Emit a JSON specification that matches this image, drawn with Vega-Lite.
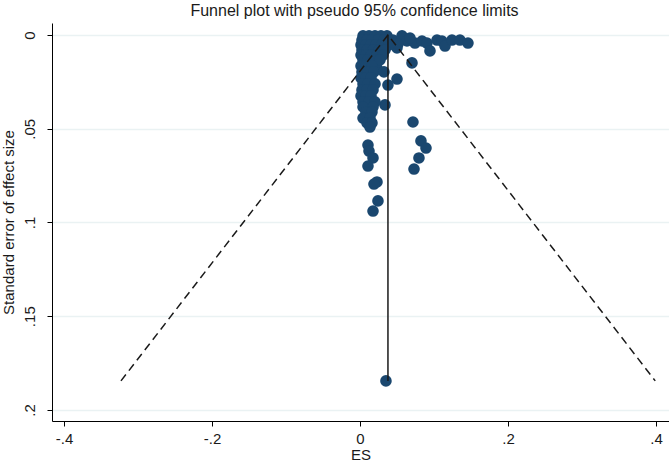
{
  "$schema": "https://vega.github.io/schema/vega-lite/v6.json",
  "width": 617,
  "height": 398,
  "autosize": {"type": "none"},
  "padding": {"left": 52, "top": 23, "right": 0, "bottom": 45},
  "background": "white",
  "title": {"text": "Funnel plot with pseudo 95% confidence limits", "font": "Liberation Sans", "fontSize": 16, "fontWeight": "normal", "color": "#1a1a1a", "offset": 4, "frame": "group", "dx": -6},
  "config": {"view": {"stroke": null}, "font": "Liberation Sans"},
  "datasets": {
    "studies": [
      {"es": 0.0446, "se": 0.0027}, {"es": 0.0568, "se": 0.0005}, {"es": 0.0635, "se": 0.0032}, {"es": 0.0743, "se": 0.0043},
      {"es": 0.0838, "se": 0.0032}, {"es": 0.0905, "se": 0.0043}, {"es": 0.0946, "se": 0.0085}, {"es": 0.1041, "se": 0.0027},
      {"es": 0.1108, "se": 0.0032}, {"es": 0.1149, "se": 0.0059}, {"es": 0.1243, "se": 0.0027}, {"es": 0.1351, "se": 0.0027},
      {"es": 0.1459, "se": 0.0043}, {"es": 0.0500, "se": 0.0069}, {"es": 0.0703, "se": 0.0149}, {"es": 0.0514, "se": 0.0048},
      {"es": 0.0676, "se": 0.0016},
      {"es": 0.0500, "se": 0.0235}, {"es": 0.0230, "se": 0.0176}, {"es": 0.0378, "se": 0.0267}, {"es": 0.0338, "se": 0.0373},
      {"es": 0.0716, "se": 0.0464}, {"es": 0.0824, "se": 0.0565}, {"es": 0.0892, "se": 0.0603}, {"es": 0.0797, "se": 0.0656},
      {"es": 0.0730, "se": 0.0715}, {"es": 0.0108, "se": 0.0587}, {"es": 0.0122, "se": 0.0619}, {"es": 0.0176, "se": 0.0656},
      {"es": 0.0108, "se": 0.0699}, {"es": 0.0230, "se": 0.0784}, {"es": 0.0189, "se": 0.0795}, {"es": 0.0243, "se": 0.0885},
      {"es": 0.0176, "se": 0.0939}, {"es": 0.0351, "se": 0.1845},
      {"es": 0.0041, "se": 0.0005}, {"es": 0.0122, "se": 0.0005}, {"es": 0.0203, "se": 0.0005}, {"es": 0.0284, "se": 0.0005}, {"es": 0.0365, "se": 0.0005},
      {"es": 0.0027, "se": 0.0027}, {"es": 0.0095, "se": 0.0027}, {"es": 0.0162, "se": 0.0027}, {"es": 0.0243, "se": 0.0027}, {"es": 0.0324, "se": 0.0027},
      {"es": 0.0014, "se": 0.0053}, {"es": 0.0081, "se": 0.0053}, {"es": 0.0149, "se": 0.0053}, {"es": 0.0216, "se": 0.0053}, {"es": 0.0297, "se": 0.0053}, {"es": 0.0392, "se": 0.0053},
      {"es": 0.0027, "se": 0.0080}, {"es": 0.0095, "se": 0.0080}, {"es": 0.0176, "se": 0.0080}, {"es": 0.0257, "se": 0.0080}, {"es": 0.0338, "se": 0.0080},
      {"es": 0.0014, "se": 0.0107}, {"es": 0.0081, "se": 0.0107}, {"es": 0.0149, "se": 0.0107}, {"es": 0.0230, "se": 0.0107}, {"es": 0.0311, "se": 0.0107},
      {"es": 0.0041, "se": 0.0133}, {"es": 0.0108, "se": 0.0133}, {"es": 0.0189, "se": 0.0133}, {"es": 0.0270, "se": 0.0133},
      {"es": 0.0014, "se": 0.0165}, {"es": 0.0081, "se": 0.0165}, {"es": 0.0162, "se": 0.0165},
      {"es": 0.0027, "se": 0.0197}, {"es": 0.0108, "se": 0.0197}, {"es": 0.0189, "se": 0.0197}, {"es": 0.0324, "se": 0.0197},
      {"es": 0.0014, "se": 0.0229}, {"es": 0.0081, "se": 0.0229}, {"es": 0.0149, "se": 0.0229},
      {"es": 0.0041, "se": 0.0261}, {"es": 0.0108, "se": 0.0261}, {"es": 0.0203, "se": 0.0261},
      {"es": 0.0027, "se": 0.0293}, {"es": 0.0095, "se": 0.0293}, {"es": 0.0176, "se": 0.0293},
      {"es": 0.0014, "se": 0.0325}, {"es": 0.0081, "se": 0.0325}, {"es": 0.0149, "se": 0.0325},
      {"es": 0.0041, "se": 0.0357}, {"es": 0.0122, "se": 0.0357}, {"es": 0.0203, "se": 0.0357},
      {"es": 0.0041, "se": 0.0384}, {"es": 0.0176, "se": 0.0384},
      {"es": 0.0081, "se": 0.0411}, {"es": 0.0162, "se": 0.0411},
      {"es": 0.0041, "se": 0.0443}, {"es": 0.0135, "se": 0.0443},
      {"es": 0.0095, "se": 0.0469}, {"es": 0.0162, "se": 0.0469},
      {"es": 0.0135, "se": 0.0491}
    ],
    "limits": [
      {"es": -0.323, "se": 0.1845, "o": 1},
      {"es": 0.0378, "se": 0.0, "o": 2},
      {"es": 0.399, "se": 0.1845, "o": 3}
    ],
    "pooled": [
      {"es": 0.0378, "se0": 0.0, "se1": 0.1845}
    ]
  },
  "encoding": {
    "x": {
      "field": "es", "type": "quantitative",
      "scale": {"domain": [-0.4162, 0.4176], "nice": false, "zero": false},
      "axis": {
        "title": "ES", "values": [-0.4, -0.2, 0, 0.2, 0.4],
        "labelExpr": "datum.value == 0 ? '0' : (datum.value < 0 ? '-' : '') + replace(format(abs(datum.value), '.2~f'), '0.', '.')",
        "grid": false, "domainColor": "#000000", "tickColor": "#000000", "tickSize": 5,
        "labelFont": "Liberation Sans", "labelFontSize": 15, "labelColor": "#1a1a1a", "labelPadding": 5,
        "titleFont": "Liberation Sans", "titleFontSize": 15, "titleFontWeight": "normal", "titleColor": "#1a1a1a", "titlePadding": 1
      }
    },
    "y": {
      "field": "se", "type": "quantitative",
      "scale": {"domain": [-0.0064, 0.2059], "nice": false, "zero": false, "reverse": true},
      "axis": {
        "title": "Standard error of effect size", "values": [0, 0.05, 0.1, 0.15, 0.2],
        "labelExpr": "datum.value == 0 ? '0' : replace(format(datum.value, '.2~f'), '0.', '.')",
        "grid": true, "gridColor": "#eaf2f3", "gridWidth": 1.5,
        "domainColor": "#000000", "tickColor": "#000000", "tickSize": 5,
        "labelAngle": -90, "labelAlign": "center", "labelBaseline": "bottom", "labelPadding": 10,
        "labelFont": "Liberation Sans", "labelFontSize": 15, "labelColor": "#1a1a1a",
        "titleFont": "Liberation Sans", "titleFontSize": 15, "titleFontWeight": "normal", "titleColor": "#1a1a1a", "titlePadding": 6
      }
    }
  },
  "layer": [
    {
      "data": {"name": "studies"},
      "mark": {"type": "circle", "size": 135, "color": "#1a476f", "opacity": 1}
    },
    {
      "data": {"name": "limits"},
      "mark": {"type": "line", "color": "#1a1a1a", "strokeWidth": 1.5, "strokeDash": [8, 5]},
      "encoding": {"order": {"field": "o", "type": "quantitative"}}
    },
    {
      "data": {"name": "pooled"},
      "mark": {"type": "rule", "color": "#1a1a1a", "strokeWidth": 1.5},
      "encoding": {
        "y": {"field": "se0", "type": "quantitative"},
        "y2": {"field": "se1"}
      }
    }
  ]
}
